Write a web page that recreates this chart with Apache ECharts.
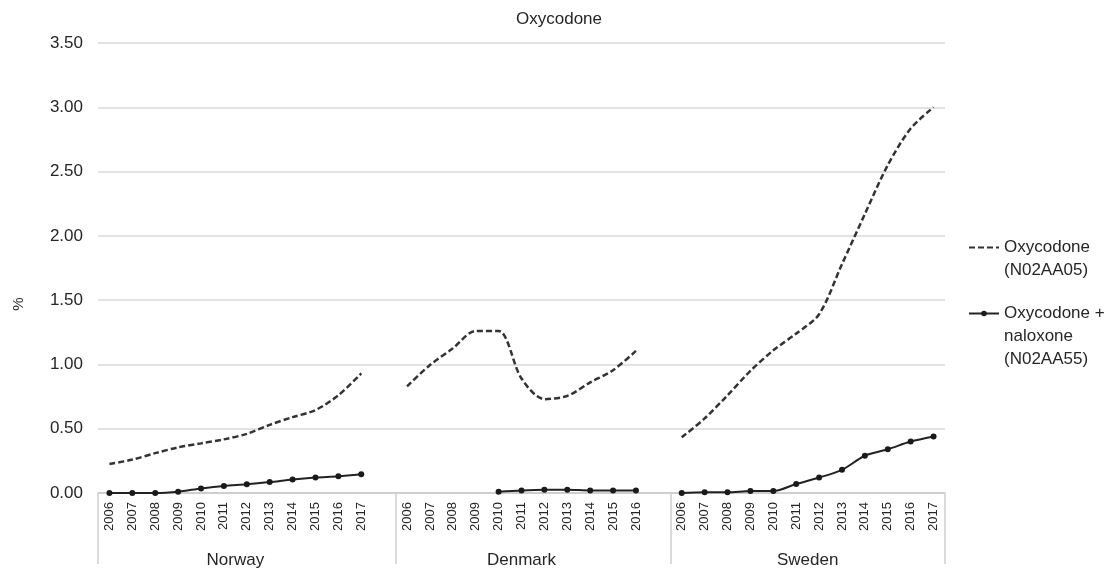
<!DOCTYPE html>
<html>
<head>
<meta charset="utf-8">
<script src="https://cdn.jsdelivr.net/npm/echarts@6/dist/echarts.min.js"></script>
<style>
html,body{margin:0;padding:0;background:#fff;}
#chart{width:1117px;height:574px;}
</style>
</head>
<body>
<div id="chart"></div>
<script>
// Category slots: years per country, with a blank slot closing Norway and Denmark groups
const norwayYears = ['2006','2007','2008','2009','2010','2011','2012','2013','2014','2015','2016','2017'];
const denmarkYears = ['2006','2007','2008','2009','2010','2011','2012','2013','2014','2015','2016'];
const swedenYears = ['2006','2007','2008','2009','2010','2011','2012','2013','2014','2015','2016','2017'];
const countries = ['Norway', 'Denmark', 'Sweden'];

// Oxycodone (N02AA05)
const norwayOxy = [0.225, 0.26, 0.31, 0.355, 0.386, 0.417, 0.46, 0.53, 0.59, 0.645, 0.76, 0.93];
const denmarkOxy = [0.83, 0.995, 1.125, 1.26, 1.26, 0.89, 0.73, 0.755, 0.86, 0.955, 1.105];
const swedenOxy = [0.433, 0.58, 0.76, 0.95, 1.11, 1.24, 1.39, 1.78, 2.17, 2.55, 2.835, 3.0];

// Oxycodone + naloxone (N02AA55)
const norwayNal = [0, 0, 0, 0.01, 0.035, 0.055, 0.068, 0.085, 0.105, 0.12, 0.13, 0.145];
const denmarkNal = [null, null, null, null, 0.01, 0.02, 0.025, 0.025, 0.02, 0.02, 0.02];
const swedenNal = [0, 0.005, 0.005, 0.015, 0.015, 0.07, 0.12, 0.18, 0.29, 0.34, 0.40, 0.44];

const yTicks = [0, 0.5, 1, 1.5, 2, 2.5, 3, 3.5];

// Build the combined category axis (blank slot after Norway and Denmark)
const categories = [].concat(norwayYears, [''], denmarkYears, [''], swedenYears);
const oxyData = [].concat(norwayOxy, [null], denmarkOxy, [null], swedenOxy);
const nalData = [].concat(norwayNal, [null], denmarkNal, [null], swedenNal);

// group boundaries & label centres in slot units
const nSlots = categories.length;
const g1 = norwayYears.length + 1;
const g2 = g1 + denmarkYears.length + 1;
const groupBounds = [-0.5, g1 - 0.5, g2 - 0.5, nSlots - 0.5];
const groupCenters = [
  (norwayYears.length - 1) / 2,
  g1 + (denmarkYears.length - 1) / 2,
  g2 + (swedenYears.length - 1) / 2
];

const FONT = 'Liberation Sans, Arial, sans-serif';
const TXT = '#262626';

const chart = echarts.init(document.getElementById('chart'), null, {renderer: 'canvas'});
chart.setOption({
  animation: false,
  backgroundColor: '#ffffff',
  textStyle: {fontFamily: FONT},
  title: {
    text: 'Oxycodone',
    left: 554,
    textAlign: 'center',
    top: 6,
    textStyle: {fontSize: 17, fontWeight: 'normal', color: TXT, fontFamily: FONT}
  },
  legend: [
    {
      data: ['Oxycodone (N02AA05)'],
      orient: 'vertical',
      left: 968,
      top: 213,
      padding: 0,
      itemWidth: 30,
      itemHeight: 7,
      itemStyle: {opacity: 0},
      formatter: () => '\nOxycodone\n(N02AA05)',
      textStyle: {fontSize: 17, color: TXT, lineHeight: 23, fontFamily: FONT}
    },
    {
      data: ['Oxycodone + naloxone (N02AA55)'],
      orient: 'vertical',
      left: 968,
      top: 256,
      padding: 0,
      itemWidth: 30,
      itemHeight: 7,
      formatter: () => '\n\nOxycodone +\nnaloxone\n(N02AA55)',
      textStyle: {fontSize: 17, color: TXT, lineHeight: 23, fontFamily: FONT}
    }
  ],
  grid: {left: 98, right: 172, top: 43, bottom: 81, containLabel: false, outerBoundsMode: 'none'},
  xAxis: [
    {
      type: 'category',
      data: categories,
      boundaryGap: true,
      position: 'bottom',
      axisLine: {show: true, lineStyle: {color: '#c8c8c8', width: 1.5}},
      axisTick: {show: false},
      axisLabel: {
        rotate: 90,
        interval: 0,
        margin: 9,
        fontSize: 13,
        color: TXT,
        fontFamily: FONT
      },
      splitLine: {show: false}
    },
    {
      type: 'value',
      min: -0.5,
      max: nSlots - 0.5,
      position: 'bottom',
      axisLine: {show: false},
      splitLine: {show: false},
      axisTick: {
        show: true,
        customValues: groupBounds,
        length: 71,
        lineStyle: {color: '#d0d0d0', width: 1.5}
      },
      axisLabel: {
        show: true,
        customValues: groupCenters,
        margin: 59,
        fontSize: 17,
        color: TXT,
        fontFamily: FONT,
        formatter: function (v) {
          const i = groupCenters.findIndex(c => Math.abs(c - v) < 1e-6);
          return i >= 0 ? countries[i] : '';
        }
      }
    }
  ],
  yAxis: {
    type: 'value',
    min: yTicks[0],
    max: yTicks[yTicks.length - 1],
    interval: 0.5,
    name: '%',
    nameLocation: 'middle',
    nameRotate: 90,
    nameGap: 72,
    nameMoveOverlap: false,
    nameTextStyle: {fontSize: 15, color: TXT, fontFamily: FONT, padding: [0, 72, 0, 0]},
    axisLine: {show: false},
    axisTick: {show: false},
    axisLabel: {
      fontSize: 17,
      color: TXT,
      margin: 15,
      fontFamily: FONT,
      formatter: v => v.toFixed(2)
    },
    splitLine: {lineStyle: {color: '#d9d9d9', width: 1.5}}
  },
  series: [
    {
      name: 'Oxycodone (N02AA05)',
      type: 'line',
      xAxisIndex: 0,
      data: oxyData,
      smooth: 0.3,
      symbol: 'none',
      connectNulls: false,
      lineStyle: {color: '#333333', width: 2.5, type: [6, 3]},
      itemStyle: {color: '#333333'}
    },
    {
      name: 'Oxycodone + naloxone (N02AA55)',
      type: 'line',
      xAxisIndex: 0,
      data: nalData,
      smooth: 0.3,
      symbol: 'circle',
      symbolSize: 6,
      connectNulls: false,
      lineStyle: {color: '#222222', width: 2},
      itemStyle: {color: '#1a1a1a'}
    }
  ]
});
</script>
</body>
</html>
